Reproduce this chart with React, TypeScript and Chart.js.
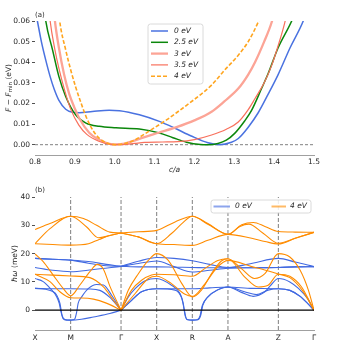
import React, { useEffect, useRef } from 'react';
import { Chart, registerables } from 'chart.js';

Chart.register(...registerables);

const FONT = '"DejaVu Sans", "Liberation Sans", sans-serif';
const INK = '#262626';

// ---------------- Panel (a): free energy vs c/a ----------------
const caTicks = [0.8, 0.9, 1.0, 1.1, 1.2, 1.3, 1.4, 1.5];
const dFTicks = [0, 0.01, 0.02, 0.03, 0.04, 0.05, 0.06];
const uLabels = ['0 eV', '2.5 eV', '3 eV', '3.5 eV', '4 eV'];

const curveU0: number[][] = [[0.799,0.067],[0.806,0.060],[0.816,0.050],[0.827,0.041],[0.838,0.033],[0.848,0.027],[0.860,0.0215],[0.877,0.0172],[0.894,0.0157],[0.911,0.0155],[0.944,0.0161],[0.986,0.0167],[1.012,0.0165],[1.062,0.0145],[1.112,0.0113],[1.150,0.0081],[1.192,0.0042],[1.234,0.0009],[1.262,0.0],[1.293,0.0012],[1.31,0.003],[1.335,0.0085],[1.36,0.0155],[1.385,0.0245],[1.41,0.034],[1.44,0.047],[1.473,0.060],[1.48,0.064]];
const curveU25: number[][] = [[0.822,0.068],[0.827,0.060],[0.844,0.046],[0.860,0.033],[0.877,0.0234],[0.902,0.0145],[0.928,0.0105],[0.961,0.0089],[1.003,0.0082],[1.062,0.0076],[1.112,0.0057],[1.146,0.0034],[1.18,0.0012],[1.215,0.0001],[1.235,0.0],[1.259,0.0006],[1.28,0.0022],[1.301,0.0055],[1.326,0.0115],[1.343,0.0165],[1.369,0.0275],[1.385,0.0345],[1.41,0.047],[1.444,0.060],[1.452,0.064]];
const curveU3: number[][] = [[0.846,0.068],[0.850,0.060],[0.860,0.047],[0.873,0.034],[0.886,0.0245],[0.900,0.0175],[0.911,0.0128],[0.936,0.0058],[0.961,0.0024],[0.980,0.0008],[1.000,0.0002],[1.025,0.0005],[1.045,0.0017],[1.075,0.0037],[1.110,0.0058],[1.155,0.0085],[1.200,0.0118],[1.243,0.0160],[1.275,0.0210],[1.310,0.0272],[1.335,0.0340],[1.352,0.0400],[1.375,0.0500],[1.394,0.0595],[1.400,0.064]];
const curveU35: number[][] = [[0.835,0.066],[0.838,0.060],[0.850,0.046],[0.860,0.037],[0.875,0.026],[0.890,0.017],[0.910,0.0095],[0.930,0.0050],[0.960,0.0017],[0.990,0.0002],[1.020,0.0],[1.050,0.0006],[1.075,0.0011],[1.120,0.0013],[1.158,0.0015],[1.200,0.0025],[1.243,0.0047],[1.280,0.0075],[1.310,0.0110],[1.335,0.0170],[1.352,0.0224],[1.375,0.0300],[1.394,0.0386],[1.410,0.0480],[1.427,0.0595],[1.432,0.064]];
const curveU4: number[][] = [[0.858,0.068],[0.862,0.060],[0.877,0.046],[0.890,0.036],[0.902,0.028],[0.915,0.0205],[0.928,0.0137],[0.940,0.0088],[0.953,0.0048],[0.970,0.0018],[0.986,0.0005],[1.005,0.0],[1.025,0.0006],[1.045,0.0018],[1.075,0.0052],[1.100,0.0083],[1.130,0.0120],[1.155,0.0155],[1.200,0.0220],[1.243,0.0289],[1.275,0.0360],[1.310,0.0434],[1.335,0.0500],[1.360,0.0595],[1.365,0.062]];

// ---------------- Panel (b): phonon dispersion ----------------
const kTicks = [0, 1, 2.414, 3.414, 4.414, 5.414, 6.828, 7.828];
const kLabels = ['X', 'M', 'Γ', 'X', 'R', 'A', 'Z', 'Γ'];
const omegaTicks = [0, 10, 20, 30, 40];
const bandLabels = ['0 eV', '4 eV'];

// U = 0 eV
const blueU1: number[][] = [[0,18.3],[0.5,18.0],[1,17.7],[1.5,17.2],[2,16.2],[2.414,15.5],[2.9,17.3],[3.414,18.6],[3.9,18.3],[4.414,17.5],[4.9,16.2],[5.414,15.1],[6.1,16.6],[6.828,18.3],[7.3,17.0],[7.828,15.4]];
const blueU2: number[][] = [[0,15.1],[0.5,14.1],[1,13.6],[1.6,14.3],[2.414,15.5],[2.9,16.5],[3.414,17.4],[3.9,15.4],[4.414,13.5],[4.9,14.1],[5.414,14.8],[6.1,15.0],[6.828,15.1],[7.3,15.3],[7.828,15.4]];
const blueU3: number[][] = [[0,18.3],[0.5,18.0],[1,17.7],[1.5,16.6],[2,15.7],[2.414,15.5],[2.9,15.3],[3.414,15.3],[3.9,15.2],[4.414,15.1],[4.9,15.0],[5.414,15.0],[6.1,15.0],[6.828,15.1],[7.3,15.3],[7.828,15.4]];
const blueL1: number[][] = [[0,11.2],[0.23,10.1],[0.42,7.8],[0.61,4.7],[0.68,2.4],[0.73,-0.6],[0.79,-3.0],[0.88,-3.5],[1,-3.5],[1.3,-3.2],[1.64,-2.4],[2.1,-1.2],[2.414,0],[2.62,4.7],[2.81,7.6],[3.09,10.4],[3.414,11.2],[3.83,8.8],[4.07,5.9],[4.16,2.4],[4.21,-1.8],[4.30,-3.4],[4.414,-3.5],[4.57,-3.4],[4.65,-1.8],[4.71,1.8],[4.85,4.7],[5.13,7.2],[5.414,8.2],[5.79,6.3],[6.12,4.9],[6.45,6.5],[6.6,8.6],[6.828,11.2],[7.15,10.0],[7.4,7.6],[7.65,4.1],[7.828,0]];
const blueL2: number[][] = [[0,7.7],[0.3,7.4],[0.5,6.6],[0.61,5.3],[0.7,2.4],[0.76,-1.8],[0.84,-3.3],[1,-3.5],[1.06,-3.4],[1.12,-3.0],[1.17,-0.6],[1.21,2.4],[1.31,4.7],[1.5,7.7],[1.73,9.1],[1.92,8.9],[2.15,5.3],[2.414,0],[2.71,3.5],[2.99,6.5],[3.414,7.6],[3.93,7.1],[4.12,4.1],[4.19,0],[4.26,-3.3],[4.414,-3.5],[4.55,-3.4],[4.63,-2.0],[4.69,1.5],[4.83,4.4],[5.1,7.0],[5.414,8.2],[5.88,6.5],[6.21,5.5],[6.54,7.1],[6.828,7.6],[7.15,7.0],[7.45,4.8],[7.828,0]];
const blueL3: number[][] = [[0,7.7],[0.5,7.6],[1,7.6],[1.5,7.5],[1.82,7.0],[2.1,4.5],[2.414,0],[2.71,3.5],[2.99,6.5],[3.414,7.6],[3.9,7.6],[4.414,7.6],[4.9,7.9],[5.414,8.2],[6.1,7.7],[6.828,7.6],[7.15,7.0],[7.45,4.8],[7.828,0]];

// U = 4 eV
const orangeT1: number[][] = [[0,28.5],[0.42,30.6],[1,33.2],[1.36,32.4],[1.73,30.0],[2.1,27.6],[2.414,27.3],[2.9,27.7],[3.414,28.2],[3.93,31.2],[4.414,33.2],[4.85,30.6],[5.414,26.8],[5.8,30.2],[6.13,31.0],[6.45,29.6],[6.828,27.8],[7.3,27.6],[7.828,27.5]];
const orangeT2: number[][] = [[0,23.5],[0.42,28.8],[1,33.2],[1.45,29.4],[1.78,25.6],[2.1,26.4],[2.414,27.3],[2.9,25.9],[3.414,23.5],[3.83,27.1],[4.12,30.6],[4.414,33.2],[4.85,30.4],[5.414,26.8],[5.75,29.6],[6.0,30.4],[6.4,27.2],[6.828,23.6],[7.3,25.4],[7.828,27.5]];
const orangeT3: number[][] = [[0,23.5],[0.5,23.2],[1,23.0],[1.5,23.5],[1.8,25.0],[2.1,26.4],[2.414,27.3],[2.9,25.9],[3.414,23.5],[3.9,23.2],[4.414,22.9],[4.85,24.7],[5.414,26.8],[6.08,25.4],[6.45,24.3],[6.828,23.4],[7.3,25.4],[7.828,27.5]];
const orangeM1: number[][] = [[0,19.9],[0.23,17.2],[0.51,12.4],[0.79,7.7],[1,5.1],[1.26,8.9],[1.54,13.6],[1.75,16.2],[1.92,14.5],[2.1,8.5],[2.414,0],[2.62,7.1],[2.9,12.9],[3.18,17.6],[3.414,20.0],[3.74,17.6],[4.12,9.4],[4.414,4.7],[4.67,7.1],[4.95,12.9],[5.23,17.4],[5.414,18.2],[5.79,14.7],[6.16,11.2],[6.45,12.9],[6.828,20.0],[7.15,18.8],[7.44,14.1],[7.67,7.1],[7.828,0]];
const orangeM2: number[][] = [[0,12.7],[0.5,12.4],[1,12.1],[1.54,11.5],[1.92,8.2],[2.2,3.5],[2.414,0],[2.71,7.1],[2.99,10.6],[3.27,12.4],[3.414,12.7],[3.9,12.5],[4.414,12.0],[4.76,14.7],[5.13,17.6],[5.414,18.2],[5.88,11.8],[6.26,8.2],[6.54,8.8],[6.828,12.7],[7.15,12.0],[7.48,8.2],[7.828,0]];
const orangeM3: number[][] = [[0,12.7],[0.42,10.1],[0.7,6.5],[1,4.4],[1.3,4.3],[1.64,3.9],[2.0,2.5],[2.414,0],[2.81,5.9],[3.18,11.2],[3.414,12.0],[3.83,9.4],[4.21,5.6],[4.414,4.9],[4.75,9.0],[5.1,15.0],[5.414,17.6],[6.08,15.4],[6.5,14.0],[6.828,12.8],[7.15,11.5],[7.5,7.0],[7.828,0]];

const blueBands = [blueU1, blueU2, blueU3, blueL1, blueL2, blueL3];
const orangeBands = [orangeT1, orangeT2, orangeT3, orangeM1, orangeM2, orangeM3];

// ---------------- styles ----------------
const topStyles = [
  { color: '#4a72e0', width: 1.5, dash: [] as number[] },
  { color: '#0b870b', width: 1.5, dash: [] as number[] },
  { color: '#fca496', width: 2.3, dash: [] as number[] },
  { color: '#f8705c', width: 1.2, dash: [] as number[] },
  { color: '#ffa51f', width: 1.6, dash: [4, 2] },
];
const BLUE = '#4169e1';
const ORANGE = '#ff8c00';

const toXY = (pairs: number[][]) => pairs.map(([x, y]) => ({ x, y }));

const gammaKs = kTicks.filter((_, i) => kLabels[i] === 'Γ');
function splitAtGamma(band: number[][]) {
  const segs: number[][][] = [];
  let cur: number[][] = [];
  for (const p of band) {
    cur.push(p);
    if (cur.length > 1 && gammaKs.some((g) => Math.abs(g - p[0]) < 1e-6)) {
      segs.push(cur);
      cur = [p];
    }
  }
  if (cur.length > 1) segs.push(cur);
  return segs;
}

function drawVerticalRich(ctx: any, parts: any[], cx: number, cy: number) {
  let total = 0;
  for (const p of parts) { ctx.font = p.font; total += ctx.measureText(p.text).width; }
  ctx.save();
  ctx.translate(cx, cy);
  ctx.rotate(-Math.PI / 2);
  ctx.textAlign = 'left';
  ctx.textBaseline = 'middle';
  let x = -total / 2;
  for (const p of parts) {
    ctx.font = p.font;
    ctx.fillText(p.text, x, p.dy || 0);
    x += ctx.measureText(p.text).width;
  }
  ctx.restore();
}

function roundRect(ctx: any, x: number, y: number, w: number, h: number, r: number) {
  ctx.beginPath();
  ctx.moveTo(x + r, y);
  ctx.lineTo(x + w - r, y);
  ctx.quadraticCurveTo(x + w, y, x + w, y + r);
  ctx.lineTo(x + w, y + h - r);
  ctx.quadraticCurveTo(x + w, y + h, x + w - r, y + h);
  ctx.lineTo(x + r, y + h);
  ctx.quadraticCurveTo(x, y + h, x, y + h - r);
  ctx.lineTo(x, y + r);
  ctx.quadraticCurveTo(x, y, x + r, y);
  ctx.closePath();
}

const topOverlay = {
  id: 'topOverlay',
  afterDraw(chart: any) {
    const ctx = chart.ctx;
    const a = chart.chartArea;
    ctx.save();
    ctx.fillStyle = INK;
    ctx.font = `7px ${FONT}`;
    ctx.textAlign = 'left';
    ctx.textBaseline = 'middle';
    ctx.fillText('(a)', a.left, 15);
    ctx.font = `italic 7.5px ${FONT}`;
    ctx.textAlign = 'center';
    ctx.fillText('c/a', (a.left + a.right) / 2, 170);
    drawVerticalRich(ctx, [
      { text: 'F', font: `italic 7.5px ${FONT}` },
      { text: ' − ', font: `7.5px ${FONT}` },
      { text: 'F', font: `italic 7.5px ${FONT}` },
      { text: 'min', font: `5.5px ${FONT}`, dy: 2 },
      { text: ' (eV)', font: `7.5px ${FONT}` },
    ], 9, (a.top + a.bottom) / 2);
    // legend
    const bx = 148, by = 24, bw = 55, bh = 60;
    roundRect(ctx, bx, by, bw, bh, 2.5);
    ctx.fillStyle = 'rgba(255,255,255,0.85)';
    ctx.fill();
    ctx.strokeStyle = '#d0d0d0';
    ctx.lineWidth = 0.8;
    ctx.stroke();
    uLabels.forEach((lab, i) => {
      const y = 31 + i * 11.3;
      const st = topStyles[i];
      ctx.beginPath();
      ctx.setLineDash(st.dash);
      ctx.strokeStyle = st.color;
      ctx.lineWidth = st.width;
      ctx.moveTo(151, y);
      ctx.lineTo(168, y);
      ctx.stroke();
      ctx.setLineDash([]);
      ctx.fillStyle = INK;
      ctx.font = `italic 7.5px ${FONT}`;
      ctx.textAlign = 'left';
      ctx.fillText(lab, 174, y);
    });
    ctx.restore();
  },
};

const bottomOverlay = {
  id: 'bottomOverlay',
  afterDraw(chart: any) {
    const ctx = chart.ctx;
    const a = chart.chartArea;
    ctx.save();
    ctx.fillStyle = INK;
    ctx.font = `7px ${FONT}`;
    ctx.textAlign = 'left';
    ctx.textBaseline = 'middle';
    ctx.fillText('(b)', a.left, 15);
    drawVerticalRich(ctx, [
      { text: 'ħω', font: `italic 7.5px ${FONT}` },
      { text: ' (meV)', font: `7.5px ${FONT}` },
    ], 15, (a.top + a.bottom) / 2);
    // legend
    const bx = 211, by = 25, bw = 100, bh = 13;
    roundRect(ctx, bx, by, bw, bh, 2.5);
    ctx.fillStyle = 'rgba(255,255,255,0.85)';
    ctx.fill();
    ctx.strokeStyle = '#d0d0d0';
    ctx.lineWidth = 0.8;
    ctx.stroke();
    const entries = [
      { x0: 213.5, x1: 230, tx: 235, color: 'rgba(65,105,225,0.6)' },
      { x0: 271.5, x1: 286, tx: 290, color: 'rgba(255,140,0,0.6)' },
    ];
    entries.forEach((e, i) => {
      ctx.beginPath();
      ctx.strokeStyle = e.color;
      ctx.lineWidth = 2;
      ctx.moveTo(e.x0, 31.5);
      ctx.lineTo(e.x1, 31.5);
      ctx.stroke();
      ctx.fillStyle = INK;
      ctx.font = `italic 7.5px ${FONT}`;
      ctx.textAlign = 'left';
      ctx.fillText(bandLabels[i], e.tx, 31.5);
    });
    ctx.restore();
  },
};

const tickFont = { family: FONT, size: 7.5 };

function TopPanel() {
  const ref = useRef<HTMLCanvasElement>(null);
  useEffect(() => {
    const curves = [curveU0, curveU25, curveU3, curveU35, curveU4];
    const datasets: any[] = [
      {
        data: [{ x: caTicks[0], y: 0 }, { x: caTicks[caTicks.length - 1], y: 0 }],
        borderColor: '#606060', borderWidth: 0.8, borderDash: [3, 2], order: 10,
        showLine: true, pointRadius: 0,
      },
    ];
    curves.forEach((c, i) => {
      datasets.push({
        data: toXY(c),
        borderColor: topStyles[i].color,
        borderWidth: topStyles[i].width,
        borderDash: topStyles[i].dash,
        order: 6 - i,
        showLine: true,
        pointRadius: 0,
        cubicInterpolationMode: 'monotone',
      });
    });
    const chart = new Chart(ref.current as HTMLCanvasElement, {
      type: 'scatter',
      data: { datasets },
      options: {
        responsive: false,
        animation: false,
        devicePixelRatio: 1,
        events: [],
        layout: { padding: { left: 0, right: 36, top: 21, bottom: 0 } },
        plugins: { legend: { display: false }, tooltip: { enabled: false } },
        scales: {
          x: {
            type: 'linear', min: 0.8, max: 1.5,
            afterBuildTicks: (s: any) => { s.ticks = caTicks.map((v) => ({ value: v })); },
            afterFit: (s: any) => { s.height = 20; },
            ticks: { font: tickFont, color: INK, padding: 3, maxRotation: 0, autoSkip: false, callback: (v: any) => Number(v).toFixed(1) },
            grid: { display: false, drawTicks: false },
            border: { display: true, color: '#a0a0a0', width: 1 },
          },
          y: {
            type: 'linear', min: -0.005, max: 0.06,
            afterBuildTicks: (s: any) => { s.ticks = dFTicks.map((v) => ({ value: v })); },
            afterFit: (s: any) => { s.width = 35; },
            ticks: { font: tickFont, color: INK, padding: 2, callback: (v: any) => Number(v).toFixed(2) },
            grid: { display: true, drawOnChartArea: false, drawTicks: true, tickLength: 3, color: INK, lineWidth: 0.8 },
            border: { display: false },
          },
        },
      } as any,
      plugins: [topOverlay],
    });
    return () => chart.destroy();
  }, []);
  return <canvas ref={ref} width={350} height={175} style={{ position: 'absolute', left: 0, top: 0, width: 350, height: 175 }} />;
}

function BottomPanel() {
  const ref = useRef<HTMLCanvasElement>(null);
  useEffect(() => {
    const datasets: any[] = [];
    datasets.push({
      data: [{ x: kTicks[0], y: 0 }, { x: kTicks[kTicks.length - 1], y: 0 }],
      borderColor: '#000000', borderWidth: 1.3, order: 0, showLine: true, pointRadius: 0,
    });
    kTicks.slice(1, -1).forEach((k) => {
      datasets.push({
        data: [{ x: k, y: -7 }, { x: k, y: 40 }],
        borderColor: '#707070', borderWidth: 0.9, borderDash: [4, 2], order: 10, showLine: true, pointRadius: 0,
      });
    });
    const addBands = (bands: number[][][], color: string, order: number) => {
      bands.forEach((b) => {
        splitAtGamma(b).forEach((seg) => {
          datasets.push({
            data: toXY(seg), borderColor: color, borderWidth: 1.1, order,
            showLine: true, pointRadius: 0, cubicInterpolationMode: 'monotone',
          });
        });
      });
    };
    addBands(blueBands, BLUE, 3);
    addBands(orangeBands, ORANGE, 2);
    const chart = new Chart(ref.current as HTMLCanvasElement, {
      type: 'scatter',
      data: { datasets },
      options: {
        responsive: false,
        animation: false,
        devicePixelRatio: 1,
        events: [],
        layout: { padding: { left: 0, right: 36, top: 22, bottom: 0 } },
        plugins: { legend: { display: false }, tooltip: { enabled: false } },
        scales: {
          x: {
            type: 'linear', min: kTicks[0], max: kTicks[kTicks.length - 1],
            afterBuildTicks: (s: any) => { s.ticks = kTicks.map((v) => ({ value: v })); },
            afterFit: (s: any) => { s.height = 20; },
            ticks: { font: tickFont, color: INK, padding: 4, maxRotation: 0, autoSkip: false, callback: (_v: any, i: number) => kLabels[i] },
            grid: { display: false, drawTicks: false },
            border: { display: true, color: '#a0a0a0', width: 1 },
          },
          y: {
            type: 'linear', min: -7, max: 40,
            afterBuildTicks: (s: any) => { s.ticks = omegaTicks.map((v) => ({ value: v })); },
            afterFit: (s: any) => { s.width = 35; },
            ticks: { font: tickFont, color: INK, padding: 2, callback: (v: any) => String(v) },
            grid: { display: true, drawOnChartArea: false, drawTicks: true, tickLength: 3, color: INK, lineWidth: 0.8 },
            border: { display: false },
          },
        },
      } as any,
      plugins: [bottomOverlay],
    });
    return () => chart.destroy();
  }, []);
  return <canvas ref={ref} width={350} height={175} style={{ position: 'absolute', left: 0, top: 175, width: 350, height: 175 }} />;
}

export default function App() {
  return (
    <div style={{ position: 'fixed', left: 0, top: 0, width: 350, height: 350, background: '#ffffff' }}>
      <TopPanel />
      <BottomPanel />
    </div>
  );
}
